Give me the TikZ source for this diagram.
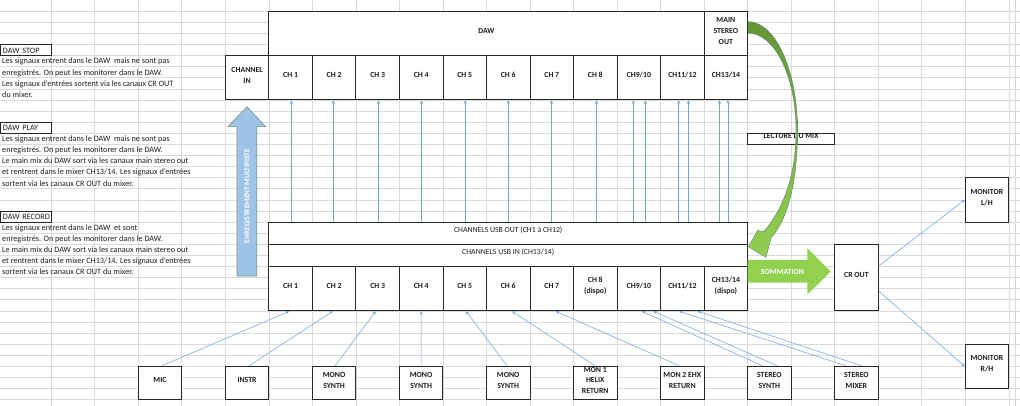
\documentclass[tikz,border=0pt]{standalone}
\usepackage{fontspec}
\setmainfont{Carlito}
\usetikzlibrary{arrows.meta,calc,fit}
\definecolor{gridc}{RGB}{218,218,218}
\definecolor{sigc}{RGB}{112,166,222}
\definecolor{txtc}{RGB}{30,30,30}
\definecolor{gdark}{RGB}{100,150,52}
\definecolor{glight}{RGB}{146,208,80}
\definecolor{bluef}{RGB}{157,195,230}
\definecolor{bluee}{RGB}{118,146,132}
\definecolor{gedge}{RGB}{80,110,120}
\begin{document}
\begin{tikzpicture}[x=1pt,y=-1pt,
  box/.style={draw=black!85, line width=0.9pt, fill=white, inner sep=0pt, align=center,
    font=\fontsize{7.8}{10.8}\selectfont\bfseries, text=txtc},
  plainbox/.style={box, font=\fontsize{7.8}{10.8}\selectfont},
  sig/.style={draw=sigc, line width=0.55pt, -{Stealth[length=3.4pt,width=3.2pt]}},
  gline/.style={draw=gridc, line width=0.5pt},
  body/.style={anchor=base west, inner sep=0pt, font=\fontsize{8.2}{11}\selectfont, text=txtc},
  tag/.style={draw=black!85, line width=0.9pt, fill=white, inner sep=0pt, anchor=north west,
    minimum width=51.1pt, minimum height=11.1pt, font=\fontsize{8.2}{11}\selectfont, text=txtc,
    text width=49pt, align=left}
]
\useasboundingbox (0,0) rectangle (1020,406);
\fill[white] (0,0) rectangle (1020,406);
% spreadsheet grid
\foreach \k in {1,...,23} \draw[gline] ({7.6+43.53*\k},0) -- ({7.6+43.53*\k},406);
\draw[gline] (1015,0) -- (1015,406);
\foreach \k in {1,...,36} \draw[gline] (0,{11.1*\k}) -- (1020,{11.1*\k});

% left explanations
\node[tag] (tstop) at (0,44.4) {\hspace*{1.5pt}DAW STOP};
\foreach \t [count=\i] in {Les signaux entrent dans le DAW \ mais ne sont pas,
  enregistrés. On peut les monitorer dans le DAW.,
  Les signaux d'entrées sortent via les canaux CR OUT,
  du mixer.}
  \node[body] (stop\i) at (2,{55.5+11.1*\i-2.6}) {\t};
\node[tag] (tplay) at (0,122.1) {\hspace*{1.5pt}DAW PLAY};
\foreach \t [count=\i] in {Les signaux entrent dans le DAW \ mais ne sont pas,
  enregistrés. On peut les monitorer dans le DAW.,
  Le main mix du DAW sort via les canaux main stereo out,
  et rentrent dans le mixer CH13/14. Les signaux d'entrées,
  sortent via les canaux CR OUT du mixer.}
  \node[body] (play\i) at (2,{133.2+11.1*\i-2.6}) {\t};
\node[tag] (trec) at (0,210.9) {\hspace*{1.5pt}DAW RECORD};
\foreach \t [count=\i] in {Les signaux entrent dans le DAW \ et sont,
  enregistrés. On peut les monitorer dans le DAW.,
  Le main mix du DAW sort via les canaux main stereo out,
  et rentrent dans le mixer CH13/14. Les signaux d'entrées,
  sortent via les canaux CR OUT du mixer.}
  \node[body] (rec\i) at (2,{222+11.1*\i-2.6}) {\t};

% DAW block
\node[box, fit={(268.8,11.1) (704.1,55.5)}] (daw) {DAW};
\node[box, fit={(704.1,11.1) (747.6,55.5)}] (mso) {MAIN\\STEREO\\OUT};
\node[box, fit={(225.3,55.5) (268.8,99.9)}] (din) {CHANNEL\\IN};
\foreach \lab [count=\i] in {CH 1,CH 2,CH 3,CH 4,CH 5,CH 6,CH 7,CH 8,CH9/10,CH11/12,CH13/14}{
  \pgfmathsetmacro\xa{225.3+43.53*\i}\pgfmathsetmacro\xb{\xa+43.53}
  \node[box, fit={(\xa,55.5) (\xb,99.9)}] (d\i) {\lab};}

% mixer block
\node[plainbox, fit={(268.8,222) (747.6,244.2)}] (usbout) {CHANNELS USB OUT (CH1 à CH12)};
\node[plainbox, fit={(268.8,244.2) (747.6,266.4)}] (usbin) {CHANNELS USB IN (CH13/14)};
\foreach \lab [count=\i] in {CH 1,CH 2,CH 3,CH 4,CH 5,CH 6,CH 7,{CH 8\\(dispo)},CH9/10,CH11/12,{CH13/14\\(dispo)}}{
  \pgfmathsetmacro\xa{225.3+43.53*\i}\pgfmathsetmacro\xb{\xa+43.53}
  \node[box, fit={(\xa,266.4) (\xb,310.8)}] (m\i) {\lab};}

% sources
\node[box, fit={(138.2,366.3) (181.7,399.6)}] (mic) {MIC};
\node[box, fit={(225.3,366.3) (268.8,399.6)}] (instr) {INSTR};
\node[box, fit={(312.3,366.3) (355.8,399.6)}] (mono1) {MONO\\SYNTH};
\node[box, fit={(399.4,366.3) (442.9,399.6)}] (mono2) {MONO\\SYNTH};
\node[box, fit={(486.4,366.3) (530.0,399.6)}] (mono3) {MONO\\SYNTH};
\node[box, fit={(573.5,366.3) (617.0,399.6)}] (mon1) {MON 1\\HELIX\\RETURN};
\node[box, fit={(660.5,366.3) (704.1,399.6)}] (mon2) {MON 2 EHX\\RETURN};
\node[box, fit={(747.6,366.3) (791.1,399.6)}] (ssyn) {STEREO\\SYNTH};
\node[box, fit={(834.6,366.3) (878.2,399.6)}] (smix) {STEREO\\MIXER};

% outputs
\node[box, fit={(834.6,244.2) (878.2,310.8)}] (crout) {CR OUT};
\node[box, fit={(965.2,177.6) (1008.7,222)}] (monl) {MONITOR\\L/H};
\node[box, fit={(965.2,344.1) (1008.7,388.5)}] (monr) {MONITOR\\R/H};

% USB OUT -> DAW channels
\foreach \i/\o in {1/0.8,2/-1,3/0.9,4/0.4,5/0.5,6/0,7/-0.4,8/1.3,9/-5.5,9/6.5,10/-3.6,10/6,11/-6.5,11/2}{
  \coordinate (t) at ([xshift=\o pt]d\i.south);
  \draw[sig] (t |- usbout.north) -- (t);}

% sources -> mixer channels
\foreach \s/\so/\t/\to in {mic/1.7/m1/-1.3, instr/2/m2/-1.4, mono1/1/m3/-1.9, mono2/0/m4/0,
  mono3/-1/m5/1.3, mon1/0/m6/3.7, mon2/-3/m7/3.9, ssyn/-6.7/m9/2.9, ssyn/8/m9/14.5,
  smix/-10.4/m10/-3, smix/5.3/m10/15.4}
  \draw[sig] ([xshift=\so pt]\s.north) -- ([xshift=\to pt]\t.south);

% CR OUT -> monitors
\draw[sig] ($(crout.north east)!0.33!(crout.south east)$) -- (monl.west);
\draw[sig] ($(crout.north east)!0.70!(crout.south east)$) -- (monr.west);

% ENREGISTREMENT MULTIPISTE arrow
\draw[fill=bluef, draw=bluee, line width=0.6pt]
  (237,276) -- (237,126.7) -- (228,126.7) -- (246.9,106.7) -- (265.8,126.7)
  -- (256.7,126.7) -- (256.7,276) -- cycle;
\node[rotate=90, text=white, inner sep=0pt, font=\fontsize{7.4}{8}\selectfont\bfseries]
  (enr) at (246.9,196) {ENREGISTREMENT MULTIPISTE};

% SOMMATION arrow
\fill[glight] (747.6,260) -- (807.3,260) -- (807.3,248.3) -- (830.7,271.5)
  -- (807.3,294.6) -- (807.3,282.7) -- (747.6,282.7) -- cycle;
\node[text=white, inner sep=0pt, font=\fontsize{7.8}{8}\selectfont\bfseries]
  (somm) at (782.5,271.6) {SOMMATION};

% LECTURE DU MIX
\node[box, fit={(747.6,133.2) (834.6,144.3)}] (lect) {LECTURE DU MIX};

% curved green arrow
\shade[top color=gdark, bottom color=glight, draw=gedge, line width=0.3pt]
  (748,21.7) .. controls (775.3,21.7) and (797.5,70.2) .. (797.5,130)
  .. controls (797.5,185) and (787,220) .. (771,238)
  -- (766,257.5) -- (748.3,246.7) -- (757.5,230.5) -- (764,231.5)
  .. controls (782,210) and (796,178) .. (796,130)
  .. controls (796,76.5) and (774.5,33) .. (748,33) -- cycle;
\end{tikzpicture}
\end{document}
